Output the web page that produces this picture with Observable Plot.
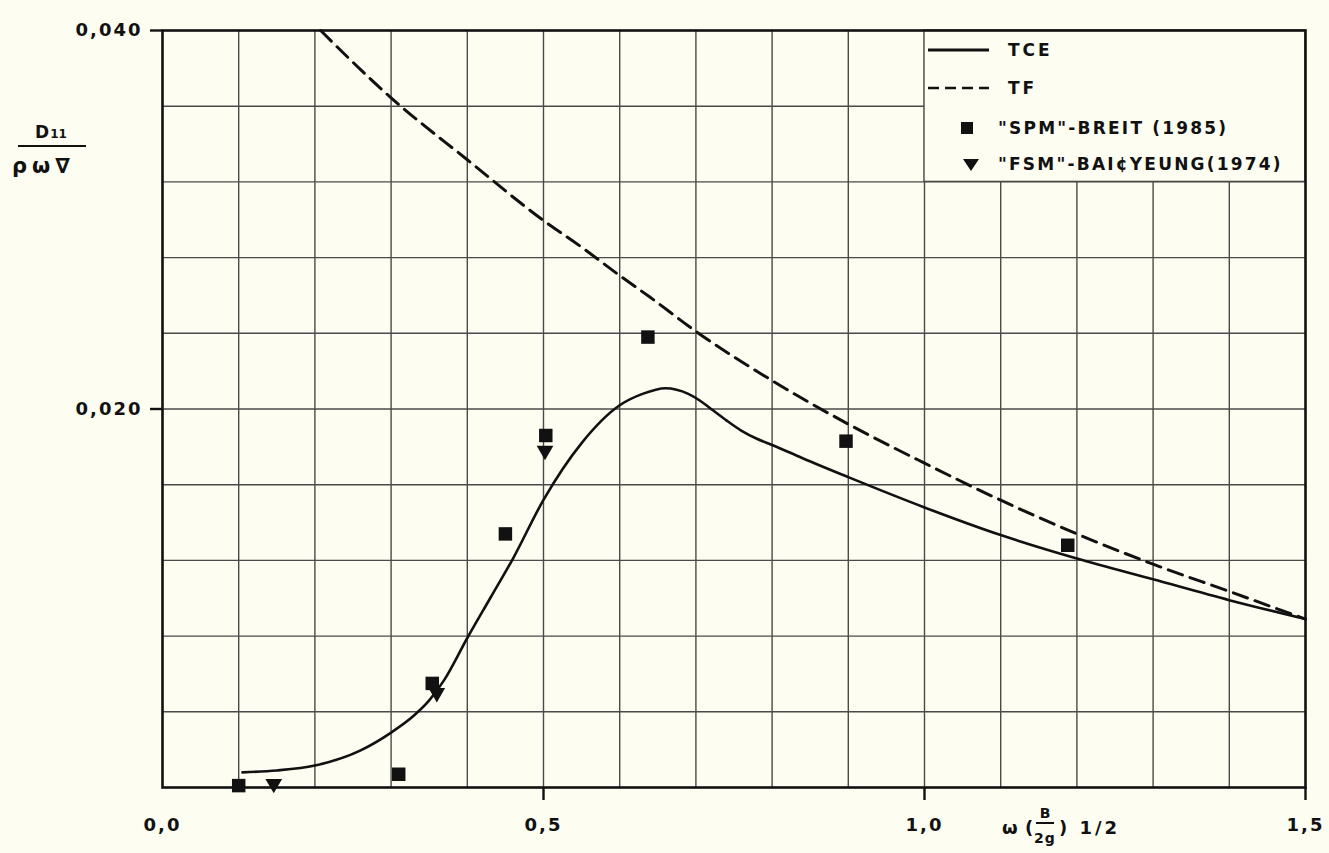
<!DOCTYPE html>
<html>
<head>
<meta charset="utf-8">
<script src="https://cdn.jsdelivr.net/npm/d3@7"></script>
<script src="https://cdn.jsdelivr.net/npm/@observablehq/plot@0.6"></script>
<style>
  html, body { margin: 0; padding: 0; background: #fdfdf1; }
  #chart svg { display: block; }
</style>
</head>
<body>
<div id="chart"></div>
<script>
// TCE curve (solid line)
const tceX = [0.105, 0.15, 0.20, 0.26, 0.30, 0.33, 0.35, 0.37, 0.40, 0.43, 0.46, 0.50, 0.55, 0.60, 0.63, 0.66, 0.69, 0.705, 0.72, 0.74, 0.76, 0.78, 0.80, 0.84, 0.90, 1.0, 1.1, 1.2, 1.3, 1.4, 1.5];
const tceY = [0.0008, 0.0009, 0.00116, 0.00196, 0.0029, 0.0038, 0.0046, 0.0057, 0.0079, 0.0100, 0.0121, 0.0152, 0.0182, 0.0202, 0.0208, 0.0211, 0.0208, 0.02045, 0.0200, 0.0194, 0.01885, 0.01843, 0.0181, 0.0174, 0.0164, 0.0148, 0.01334, 0.0121, 0.0110, 0.0099, 0.0089];

// TF curve (dashed line)
const tfX = [0.2075, 0.30, 0.40, 0.50, 0.55, 0.60, 0.64, 0.70, 0.80, 0.90, 1.0, 1.1, 1.2, 1.3, 1.4, 1.5];
const tfY = [0.0400, 0.03644, 0.03317, 0.02996, 0.02855, 0.02705, 0.0259, 0.0241, 0.0215, 0.0192, 0.01714, 0.01518, 0.0134, 0.0118, 0.01036, 0.0089];

// "SPM" - Breit (1985), squares
const spmX = [0.10, 0.31, 0.354, 0.45, 0.503, 0.637, 0.897, 1.188];
const spmY = [0.0001, 0.0007, 0.0055, 0.0134, 0.0186, 0.0238, 0.0183, 0.0128];

// "FSM" - Bai & Yeung (1974), down triangles
const fsmX = [0.146, 0.36, 0.502];
const fsmY = [0.0002, 0.0050, 0.0178];

// Grid and tick values
const xGrid = [0.1, 0.2, 0.3, 0.4, 0.5, 0.6, 0.7, 0.8, 0.9, 1.0, 1.1, 1.2, 1.3, 1.4];
const yGrid = [0.004, 0.008, 0.012, 0.016, 0.020, 0.024, 0.028, 0.032, 0.036];
const xTickLabels = [0, 0.5, 1.0, 1.5];
const xTickMarks = [0.5, 1.0, 1.5];
const yTickLabels = [0.020, 0.040];

// Legend entries and the box that holds them
const legendLabels = ["TCE", "TF", "\"SPM\"-BREIT (1985)", "\"FSM\"-BAI\u00A2YEUNG(1974)"];
const legendKinds = ["solid", "dashed", "square", "triangle"];
const legendBox = {x1: 1.0, x2: 1.5, y1: 0.032, y2: 0.040};

const bg = "#fdfdf1";
const ink = "#111";
const gridInk = "#4a4a4a";
const font = "DejaVu Sans";

const tce = tceX.map((x, i) => ({x, y: tceY[i]}));
const tf = tfX.map((x, i) => ({x, y: tfY[i]}));
const spm = spmX.map((x, i) => ({x, y: spmY[i]}));
const fsm = fsmX.map((x, i) => ({x, y: fsmY[i]}));
const comma = (d, n) => d.toFixed(n).replace(".", ",");

const chart = Plot.plot({
  width: 1329,
  height: 853,
  marginLeft: 162,
  marginRight: 24,
  marginTop: 30,
  marginBottom: 66,
  x: {domain: [0, 1.5]},
  y: {domain: [0, 0.040]},
  style: {background: bg, fontFamily: font, fontWeight: "bold", color: ink},
  marks: [
    Plot.gridX(xGrid, {stroke: gridInk, strokeOpacity: 1, strokeWidth: 1.4}),
    Plot.gridY(yGrid, {stroke: gridInk, strokeOpacity: 1, strokeWidth: 1.4}),
    Plot.rect([legendBox], {x1: "x1", x2: "x2", y1: "y1", y2: "y2", fill: bg, stroke: gridInk, strokeWidth: 1.4}),
    Plot.line(tf, {x: "x", y: "y", curve: "monotone-x", stroke: ink, strokeWidth: 3, strokeDasharray: "15,8"}),
    Plot.line(tce, {x: "x", y: "y", curve: "monotone-x", stroke: ink, strokeWidth: 2.6}),
    Plot.dot(spm, {x: "x", y: "y", symbol: "square", r: 7.6, fill: ink}),
    Plot.dot(fsm, {x: "x", y: "y", symbol: "triangle", r: 6.2, fill: ink, rotate: 180}),
    Plot.frame({stroke: ink, strokeWidth: 2.6}),
    Plot.axisX({ticks: xTickMarks, tickSize: 13, tickFormat: () => "", label: null, stroke: ink, strokeWidth: 2.4}),
    Plot.axisX({ticks: xTickLabels, tickSize: 0, tickPadding: 31, tickFormat: d => comma(d, 1), label: null, fontSize: 18, fill: ink}),
    Plot.axisY({ticks: yTickLabels, tickSize: 12, tickPadding: 8, tickFormat: d => comma(d, 3), label: null, fontSize: 18, fill: ink, stroke: ink, strokeWidth: 2.4})
  ]
});

document.getElementById("chart").appendChild(chart);

const svg = d3.select(chart);

// Wider letter spacing on the tick labels
svg.selectAll('g[aria-label="x-axis tick label"] text, g[aria-label="y-axis tick label"] text')
  .attr("letter-spacing", 2);

// Legend inside the upper-right box
const sx = chart.scale("x"), sy = chart.scale("y");
const lx = sx.apply(legendBox.x1);
const ly = sy.apply(legendBox.y2);
const g = svg.append("g")
  .attr("font-family", font).attr("font-weight", "bold")
  .attr("fill", ink).attr("text-anchor", "start");
const rowY = [20, 58, 98, 134];

legendKinds.forEach((kind, i) => {
  const cy = ly + rowY[i];
  if (kind === "solid" || kind === "dashed") {
    g.append("line")
      .attr("x1", lx + 4).attr("x2", lx + 65).attr("y1", cy).attr("y2", cy)
      .attr("stroke", ink).attr("stroke-width", kind === "solid" ? 3 : 2.6)
      .attr("stroke-dasharray", kind === "dashed" ? "11,6" : null);
  } else if (kind === "square") {
    g.append("rect").attr("x", lx + 37).attr("y", cy - 6).attr("width", 12).attr("height", 12).attr("fill", ink);
  } else {
    g.append("path").attr("d", `M${lx + 39},${cy - 5}L${lx + 55},${cy - 5}L${lx + 47},${cy + 7}Z`).attr("fill", ink);
  }
  g.append("text")
    .attr("x", lx + (i < 2 ? 84 : 74))
    .attr("y", cy + 6)
    .attr("font-size", 17)
    .attr("letter-spacing", i < 2 ? 3 : 2.2)
    .text(legendLabels[i]);
});

// y-axis title: D11 over rho omega nabla
const yt = svg.append("g")
  .attr("font-family", font).attr("font-weight", "bold")
  .attr("fill", ink).attr("text-anchor", "start");
const d11 = yt.append("text").attr("x", 35).attr("y", 138).attr("font-size", 17);
d11.append("tspan").text("D");
d11.append("tspan").attr("font-size", 12).attr("dx", 1).text("11");
yt.append("line").attr("x1", 18).attr("x2", 86).attr("y1", 146).attr("y2", 146).attr("stroke", ink).attr("stroke-width", 2.2);
yt.append("text").attr("x", 12).attr("y", 173).attr("font-size", 21).attr("letter-spacing", 5).text("\u03C1\u03C9\u2207");

// x-axis title: omega (B over 2g) 1/2
const xt = svg.append("g")
  .attr("font-family", font).attr("font-weight", "bold")
  .attr("fill", ink).attr("text-anchor", "start");
xt.append("text").attr("x", 1002).attr("y", 834).attr("font-size", 18).text("\u03C9");
xt.append("text").attr("x", 1025).attr("y", 834).attr("font-size", 18).text("(");
xt.append("text").attr("x", 1045).attr("y", 818).attr("text-anchor", "middle").attr("font-size", 14).text("B");
xt.append("line").attr("x1", 1036).attr("x2", 1054).attr("y1", 823).attr("y2", 823).attr("stroke", ink).attr("stroke-width", 2);
xt.append("text").attr("x", 1045).attr("y", 843).attr("text-anchor", "middle").attr("font-size", 14).attr("letter-spacing", 1).text("2g");
xt.append("text").attr("x", 1059).attr("y", 834).attr("font-size", 18).attr("letter-spacing", 3).text(") 1/2");
</script>
</body>
</html>
